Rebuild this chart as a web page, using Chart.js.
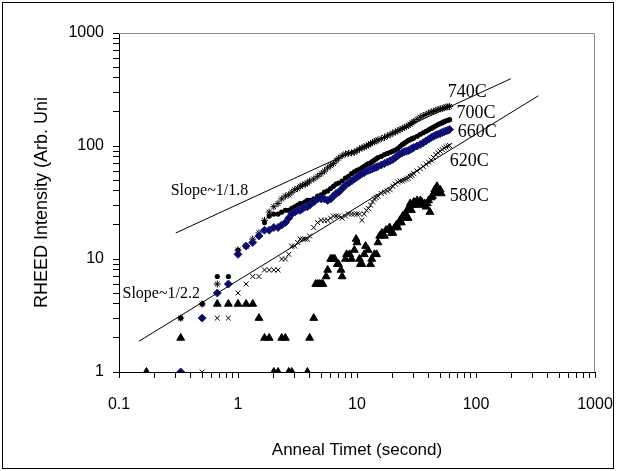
<!DOCTYPE html>
<html>
<head>
<meta charset="utf-8">
<title>RHEED intensity vs anneal time</title>
<script src="https://cdn.jsdelivr.net/npm/chart.js@4.4.0/dist/chart.umd.min.js"></script>
<style>
    html, body { margin: 0; padding: 0; background: #fff; }
    #wrap { width: 617px; height: 471px; }
</style>
</head>
<body>
<div id="wrap"><canvas id="rheed" width="617" height="471"></canvas></div>
<script>
// axis decades and their labels
const xDecades = [0.1, 1, 10, 100, 1000];
const xTickLabels = ["0.1", "1", "10", "100", "1000"];
const yDecades = [1, 10, 100, 1000];
const yTickLabels = ["1", "10", "100", "1000"];

// anneal time (s) where the 740/700/660/620C curves run dense
const timeDense = [1.83, 2, 2.17, 2.33, 2.5, 2.67, 2.83, 3, 3.17, 3.33, 3.5, 3.67, 3.83, 4, 4.33, 4.67, 5, 5.33, 5.67, 6,
    6.33, 6.67, 7, 7.5, 8, 8.5, 9, 9.5, 10, 10.5, 11, 11.5, 12, 12.5, 13, 13.5, 14, 14.5, 15, 16,
    17, 18, 19, 20, 21, 22, 23, 24, 25, 26, 27, 28, 29, 30, 32, 34, 36, 38, 40, 42,
    44, 46, 48, 50, 52, 54, 56, 58, 60];

// 740C
const time740 = [0.33, 0.5, 0.67, 1, 1.17, 1.33, 1.5, 1.67];
const int740 = [3, 4, 6, 12, 13, 15, 17, 22];
const int740Dense = [26, 29, 31, 34, 36, 37, 39, 41, 42, 44, 45, 46, 47, 49, 51, 54, 57, 60, 64, 67,
    70, 74, 78, 82, 85, 86, 87, 88, 91, 94, 96, 98, 100, 102, 105, 107, 109, 111, 113, 116,
    119, 123, 126, 130, 133, 136, 140, 143, 146, 149, 152, 156, 160, 165, 172, 180, 186, 190, 195, 200,
    203, 207, 210, 213, 215, 218, 221, 222, 224];

// 700C
const time700 = [0.33, 0.5, 0.67, 0.83, 1, 1.17, 1.33, 1.5, 1.67];
const int700 = [3, 4, 7, 7, 12, 13, 14, 16, 21];
const int700Dense = [24, 25, 25, 26, 27, 27, 28, 29, 30, 31, 31, 32, 33, 33, 34, 36, 37, 39, 40, 42,
    44, 46, 47, 49, 52, 54, 57, 59, 61, 62, 64, 66, 68, 70, 71, 73, 75, 77, 79, 81,
    84, 86, 88, 90, 92, 95, 99, 103, 106, 109, 112, 114, 116, 118, 122, 127, 131, 135, 139, 143,
    147, 151, 155, 158, 161, 164, 167, 169, 171];

// 660C
const time660 = [0.33, 0.5, 0.67, 0.83, 1, 1.17, 1.33, 1.5, 1.67];
const int660 = [1, 3, 5, 6, 11, 13, 14, 16, 18];
const int660Dense = [18, 19, 19, 20, 21, 23, 25, 26, 27, 27, 28, 29, 29, 30, 32, 34, 34, 34, 33, 34,
    36, 38, 39, 42, 45, 47, 49, 51, 53, 55, 57, 58, 60, 61, 62, 63, 64, 65, 66, 68,
    70, 72, 74, 76, 79, 82, 85, 87, 89, 90, 91, 93, 95, 97, 100, 103, 107, 111, 115, 119,
    122, 125, 127, 129, 132, 134, 136, 138, 140];

// 620C
const time620 = [0.5, 0.67, 0.83, 1, 1.17, 1.33, 1.5, 1.67];
const int620 = [1, 3, 3, 5, 6, 7, 7, 8];
const int620Dense = [8, 8, 8, 10, 10, 11, 13, 13, 14, 15, 15, 15, 15, 16, 19, 21, 22, 22, 22, 23,
    24, 24, 24, 23, 24, 25, 25, 25, 25, 25, 22, 25, 27, 28, 30, 32, 34, 35, 36, 38,
    39, 40, 41, 44, 46, 48, 49, 49, 50, 51, 52, 54, 55, 57, 60, 63, 66, 69, 72, 75,
    79, 84, 87, 90, 93, 96, 98, 100, 101];

// 580C
const time580 = [0.17, 0.33, 0.67, 0.83, 1, 1.17, 1.33, 1.5, 1.67, 1.83, 2, 2.17, 2.33, 2.5, 2.67, 2.83, 3.83, 4, 4.33, 4.5,
    4.67, 4.83, 5, 5.17, 5.5, 5.67, 6, 6.17, 6.33, 6.5, 6.83, 7, 7.33, 7.5, 8, 8.17, 8.67, 9, 9.5, 9.83,
    10, 10.5, 10.67, 11, 11.5, 11.8, 12.4, 13, 13.3, 14, 14.6, 15, 15.5, 16.2, 17, 17.5, 18, 18.8, 19.5, 20,
    20.7, 21.4, 22, 22.5, 23, 23.6, 24.2, 25, 25.7, 26.3, 26.9, 27.5, 28, 28.7, 29.3, 30, 31, 32, 33, 34,
    35, 36, 37, 38, 39, 40, 41, 42, 43, 44, 45, 46, 47, 48, 49, 50, 51];
const int580 = [1, 2, 4, 4, 4, 4, 4, 3, 2, 2, 1, 1, 2, 2, 1, 1, 1, 2, 3, 6,
    6, 6, 6, 6, 7, 8, 10, 10, 10, 10, 9, 9, 8, 7, 10, 11, 11, 10, 12, 15,
    14, 10, 9, 9, 11, 13, 12, 9, 10, 11, 11, 14, 16, 17, 16, 18, 18, 19, 17, 17,
    19, 20, 19, 21, 22, 21, 24, 23, 25, 27, 23, 28, 31, 27, 30, 32, 30, 33, 31, 33,
    32, 30, 31, 29, 31, 33, 26, 35, 36, 38, 41, 42, 44, 41, 39, 41, 38];

// guide lines (end points)
const slopeATime = [0.3, 196];
const slopeAInt = [17, 394];
const slopeBTime = [0.147, 334];
const slopeBInt = [1.87, 278];


function toPoints(xs, ys) {
    let pts = [];
    for (let i = 0; i < xs.length; i++) {
        pts.push({x: xs[i], y: ys[i]});
    }
    return pts;
}

function logTicks(decades) {
    let out = [];
    for (let d = 0; d < decades.length; d++) {
        out.push({value: decades[d]});
        if (d == decades.length - 1) break;
        for (let k = 2; k <= 9; k++) {
            out.push({value: Number((decades[d] * k).toPrecision(3))});
        }
    }
    return out;
}

const serif = "'Liberation Serif', 'Times New Roman', serif";
const sans = "'Liberation Sans', Arial, sans-serif";

// text placed in data space
const notes = [
    {text: "740C", x: 57.8, y: 296, size: 18},
    {text: "700C", x: 68.7, y: 193, size: 18},
    {text: "660C", x: 70.1, y: 133, size: 18},
    {text: "620C", x: 60.1, y: 74, size: 18},
    {text: "580C", x: 60.1, y: 36, size: 18},
    {text: "Slope~1/1.8", x: 0.272, y: 40, size: 16},
    {text: "Slope~1/2.2", x: 0.107, y: 4.9, size: 16}
];

const framePlugin = {
    id: "frame",
    afterDraw(chart) {
        let ctx = chart.ctx;
        let a = chart.chartArea;
        ctx.save();
        ctx.strokeStyle = "#8c8c8c";
        ctx.lineWidth = 1;
        ctx.beginPath();
        ctx.moveTo(a.left, a.top + 0.5);
        ctx.lineTo(a.right - 0.5, a.top + 0.5);
        ctx.lineTo(a.right - 0.5, a.bottom);
        ctx.stroke();

        ctx.strokeStyle = "#000";
        ctx.strokeRect(2.5, 2.5, 611, 466);

        let sx = chart.scales.x;
        let sy = chart.scales.y;
        ctx.fillStyle = "#000";
        ctx.textAlign = "left";
        ctx.textBaseline = "middle";
        notes.forEach(function(n) {
            ctx.font = n.size + "px " + serif;
            ctx.fillText(n.text, sx.getPixelForValue(n.x), sy.getPixelForValue(n.y));
        });
        ctx.restore();
    }
};

new Chart(document.getElementById("rheed"), {
    type: "scatter",
    data: {
        datasets: [
            {
                label: "Slope~1/1.8",
                data: toPoints(slopeATime, slopeAInt),
                showLine: true,
                borderColor: "#000",
                borderWidth: 1,
                pointRadius: 0
            },
            {
                label: "Slope~1/2.2",
                data: toPoints(slopeBTime, slopeBInt),
                showLine: true,
                borderColor: "#000",
                borderWidth: 1,
                pointRadius: 0
            },
            {
                label: "660C",
                data: toPoints(time660.concat(timeDense), int660.concat(int660Dense)),
                pointStyle: "rectRot",
                pointRadius: 4,
                backgroundColor: "#0a0a5a",
                borderColor: "#1c1c96",
                borderWidth: 1
            },
            {
                label: "700C",
                data: toPoints(time700.concat(timeDense), int700.concat(int700Dense)),
                pointStyle: "circle",
                pointRadius: 2.6,
                backgroundColor: "#000",
                borderColor: "#000",
                borderWidth: 0
            },
            {
                label: "740C",
                data: toPoints(time740.concat(timeDense), int740.concat(int740Dense)),
                pointStyle: "star",
                pointRadius: 3.5,
                backgroundColor: "#000",
                borderColor: "#000",
                borderWidth: 1
            },
            {
                label: "620C",
                data: toPoints(time620.concat(timeDense), int620.concat(int620Dense)),
                pointStyle: "crossRot",
                pointRadius: 3.5,
                backgroundColor: "#000",
                borderColor: "#000",
                borderWidth: 1
            },
            {
                label: "580C",
                data: toPoints(time580, int580),
                pointStyle: "triangle",
                pointRadius: 4.5,
                backgroundColor: "#000",
                borderColor: "#000",
                borderWidth: 1
            }
        ]
    },
    options: {
        responsive: false,
        animation: false,
        devicePixelRatio: 1,
        layout: {padding: {left: 0, top: 33, right: 22, bottom: 0}},
        plugins: {legend: {display: false}, tooltip: {enabled: false}},
        scales: {
            x: {
                type: "logarithmic",
                min: 0.1,
                max: 1000,
                afterBuildTicks: function(scale) { scale.ticks = logTicks(xDecades); },
                afterFit: function(scale) {
                    scale.height = 99;
                    scale.paddingLeft = 0;
                    scale.paddingRight = 0;
                },
                grid: {display: true, drawOnChartArea: false, drawTicks: true, tickLength: 6, color: "#000"},
                border: {display: true, color: "#000", width: 1},
                ticks: {
                    autoSkip: false,
                    maxRotation: 0,
                    padding: 17,
                    color: "#000",
                    font: {family: sans, size: 16},
                    callback: function(value) {
                        let i = xDecades.indexOf(value);
                        return i >= 0 ? xTickLabels[i] : "";
                    }
                },
                title: {
                    display: true,
                    text: "Anneal Timet (second)",
                    color: "#000",
                    font: {family: sans, size: 17},
                    padding: {top: 0, bottom: 10}
                }
            },
            y: {
                type: "logarithmic",
                min: 1,
                max: 1000,
                afterBuildTicks: function(scale) { scale.ticks = logTicks(yDecades); },
                afterFit: function(scale) {
                    scale.width = 119;
                    scale.paddingTop = 0;
                    scale.paddingBottom = 0;
                },
                grid: {display: true, drawOnChartArea: false, drawTicks: true, tickLength: 6, color: "#000"},
                border: {display: true, color: "#000", width: 1},
                ticks: {
                    autoSkip: false,
                    padding: 9,
                    color: "#000",
                    font: {family: sans, size: 16},
                    callback: function(value) {
                        let i = yDecades.indexOf(value);
                        return i >= 0 ? yTickLabels[i] : "";
                    }
                },
                title: {
                    display: true,
                    text: "RHEED Intensity (Arb. Uni",
                    color: "#000",
                    font: {family: sans, size: 18},
                    padding: {top: 31, bottom: 0}
                }
            }
        }
    },
    plugins: [framePlugin]
});
</script>
</body>
</html>
